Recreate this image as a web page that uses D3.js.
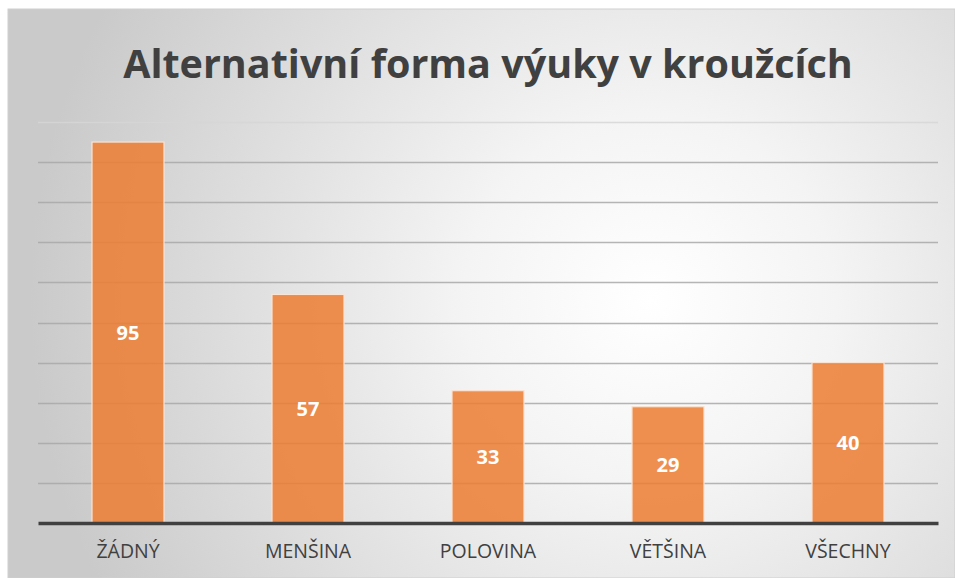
<!DOCTYPE html>
<html>
<head>
<meta charset="utf-8">
<script src="https://cdn.jsdelivr.net/npm/d3@7"></script>
<style>
  body { margin: 0; background: #fff; }
  svg { display: block; }
</style>
</head>
<body>
<script>
// chart values
var categories = ["ŽÁDNÝ", "MENŠINA", "POLOVINA", "VĚTŠINA", "VŠECHNY"];
var values = [95, 57, 33, 29, 40];
var yTicks = [0, 10, 20, 30, 40, 50, 60, 70, 80, 90, 100];
var title = "Alternativní forma výuky v kroužcích";

var width = 955, height = 578;
var margin = {top: 122, right: 17, bottom: 55, left: 38};

var svg = d3.select("body").append("svg")
    .attr("width", width)
    .attr("height", height);

// background gradient
var defs = svg.append("defs");
var grad = defs.append("radialGradient")
    .attr("id", "bg")
    .attr("gradientUnits", "userSpaceOnUse")
    .attr("cx", 650).attr("cy", 300).attr("r", 620);
grad.append("stop").attr("offset", "0%").attr("stop-color", "#ffffff");
grad.append("stop").attr("offset", "30%").attr("stop-color", "#f4f4f4");
grad.append("stop").attr("offset", "100%").attr("stop-color", "#cacaca");

svg.append("rect")
    .attr("x", 8).attr("y", 9)
    .attr("width", width - 8).attr("height", height - 9)
    .attr("fill", "url(#bg)")
    .attr("stroke", "#cfcfcf")
    .attr("stroke-width", 1);

var x = d3.scaleBand()
    .domain(categories)
    .range([margin.left, width - margin.right])
    .paddingInner(0.6)
    .paddingOuter(0.3);

var y = d3.scaleLinear()
    .domain([0, 100])
    .range([height - margin.bottom, margin.top]);

// gridlines
svg.append("g")
  .selectAll("line")
  .data(yTicks.slice(1))
  .join("line")
    .attr("x1", margin.left)
    .attr("x2", width - margin.right)
    .attr("y1", function(d) { return Math.round(y(d)) + 0.5; })
    .attr("y2", function(d) { return Math.round(y(d)) + 0.5; })
    .attr("stroke", function(d) { return d == 100 ? "#d6d6d6" : "#a8a8a8"; })
    .attr("stroke-opacity", 0.85)
    .attr("stroke-width", 1.3);

// bars
svg.append("g")
  .selectAll("rect")
  .data(values)
  .join("rect")
    .attr("x", function(d, i) { return x(categories[i]); })
    .attr("y", function(d) { return y(d); })
    .attr("width", x.bandwidth())
    .attr("height", function(d) { return y(0) - y(d); })
    .attr("fill", "#ed7d31")
    .attr("fill-opacity", 0.85)
    .attr("stroke", "#fbe3d3")
    .attr("stroke-width", 1.2);

// value labels
svg.append("g")
  .selectAll("text")
  .data(values)
  .join("text")
    .attr("x", function(d, i) { return x(categories[i]) + x.bandwidth() / 2; })
    .attr("y", function(d) { return (y(d) + y(0)) / 2; })
    .attr("dy", "0.36em")
    .attr("text-anchor", "middle")
    .attr("font-family", "Open Sans, sans-serif")
    .attr("font-weight", "bold")
    .attr("font-size", 20)
    .attr("fill", "#ffffff")
    .text(function(d) { return d; });

// x axis
var xAxis = svg.append("g")
    .attr("transform", "translate(0," + y(0) + ")")
    .call(d3.axisBottom(x).tickSize(0).tickPadding(21));
xAxis.select(".domain")
    .attr("stroke", "#404040")
    .attr("stroke-width", 3.5);
xAxis.selectAll("text")
    .attr("font-family", "Open Sans, sans-serif")
    .attr("font-size", 19.5)
    .attr("fill", "#404040");

// title
svg.append("text")
    .attr("x", 488)
    .attr("y", 78)
    .attr("text-anchor", "middle")
    .attr("font-family", "Open Sans, sans-serif")
    .attr("font-weight", "bold")
    .attr("font-size", 39.5)
    .attr("fill", "#404040")
    .text(title);
</script>
</body>
</html>
